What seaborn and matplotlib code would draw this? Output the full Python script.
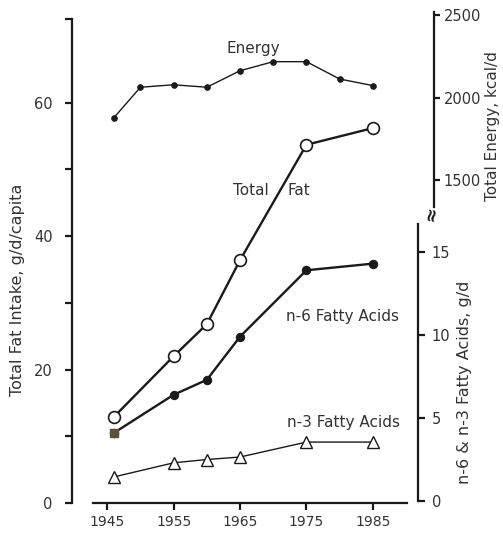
import numpy as np
import pandas as pd
from matplotlib import pyplot as plt
import seaborn as sns

# values
energy_years = [1946, 1950, 1955, 1960, 1965, 1970, 1975, 1980, 1985]
energy_kcal = [1880, 2065, 2080, 2065, 2165, 2220, 2220, 2115, 2075]

fat_years = [1946, 1955, 1960, 1965, 1975, 1985]
total_fat = [12.9, 22.0, 26.8, 36.4, 53.7, 56.2]      # g/d/capita (left axis)
n6_acids = [4.1, 6.4, 7.3, 9.9, 13.9, 14.3]           # g/d (lower right axis)
n3_acids = [1.45, 2.3, 2.5, 2.65, 3.55, 3.55]         # g/d (lower right axis)

year_ticks = [1945, 1955, 1965, 1975, 1985]


def plot(outf):
    sns.set_style("ticks")
    plt.rcParams['font.family'] = ['DejaVu Sans']
    ink = '#1a1a1a'
    txt = '#333333'

    W, H = 503, 534
    fig = plt.figure(figsize=(W / 100, H / 100), dpi=100)
    # main axes: left spine at x=72px, right spine at x=418px, 0 at y=503px
    ax = fig.add_axes([72 / W, (H - 503) / H, 346 / W, 491 / H])
    ax2 = ax.twinx()
    ax3 = ax.twinx()
    for a in (ax, ax2, ax3):
        a.set_facecolor('none')
        for s in a.spines.values():
            s.set_visible(False)
            s.set_linewidth(1.6)
            s.set_color(ink)

    ax.set_xlim(1939.7, 1991.8)
    ax.set_ylim(0, 73.6)
    ax2.set_ylim(-0.12, 29.46)
    ax3.set_ylim(-454.5, 2521)

    # Total fat - open circles, left axis
    sns.lineplot(x=fat_years, y=total_fat, ax=ax, color=ink, linewidth=1.7,
                 marker='o', markersize=8.5, markerfacecolor='white',
                 markeredgecolor=ink, markeredgewidth=1.2, clip_on=False)
    # n-6 fatty acids - filled circles
    sns.lineplot(x=fat_years, y=n6_acids, ax=ax2, color=ink, linewidth=1.7,
                 marker='o', markersize=6, markerfacecolor=ink,
                 markeredgecolor=ink, clip_on=False)
    ax2.plot(fat_years[0], n6_acids[0], 's', color='#5e5040', markersize=6,
             zorder=5)
    # n-3 fatty acids - open triangles
    sns.lineplot(x=fat_years, y=n3_acids, ax=ax2, color=ink, linewidth=1.0,
                 marker='^', markersize=8, markerfacecolor='white',
                 markeredgecolor=ink, markeredgewidth=1.0, clip_on=False)
    # Energy - small dots, upper right axis
    sns.lineplot(x=energy_years, y=energy_kcal, ax=ax3, color=ink,
                 linewidth=1.0, marker='o', markersize=4, markerfacecolor=ink,
                 markeredgecolor=ink, clip_on=False)

    # left axis
    ax.spines['left'].set_visible(True)
    ax.spines['left'].set_bounds(0, 72.5)
    ax.set_yticks([0, 20, 40, 60])
    ax.set_yticks([10, 30, 50, 72.5], minor=True)
    ax.tick_params(axis='y', which='both', direction='out', length=5,
                   width=1.6, color=ink, labelsize=10.5, labelcolor=txt, pad=9)
    ax.tick_params(axis='y', which='both', right=False)

    # x axis, detached from the left spine
    ax.spines['bottom'].set_visible(True)
    ax.spines['bottom'].set_bounds(1942.9, 1990.1)
    ax.set_xticks(year_ticks)
    ax.tick_params(axis='x', direction='out', length=5, width=1.6, color=ink,
                   labelsize=10, labelcolor=txt, pad=4)

    # lower right axis (fatty acids)
    ax2.spines['right'].set_visible(True)
    ax2.spines['right'].set_bounds(0, 16.7)
    ax2.set_yticks([0, 5, 10, 15])
    ax2.tick_params(axis='y', direction='out', length=5, width=1.6,
                    color=ink, labelsize=10.5, labelcolor=txt, pad=5)

    # upper right axis (energy), pushed outward
    ax3.spines['right'].set_visible(True)
    ax3.spines['right'].set_position(('outward', 11.5))
    ax3.spines['right'].set_bounds(1340, 2521)
    ax3.set_yticks([1500, 2000, 2500])
    ax3.tick_params(axis='y', direction='out', length=4, width=1.6,
                    color=ink, labelsize=10.5, labelcolor=txt, pad=3)

    for a in (ax, ax2, ax3):
        a.set_xlabel('')
        a.set_ylabel('')

    # break mark between the two right axes
    fig.text(431 / W, 1 - 214 / H, '\u2248', fontsize=13, color=ink,
             ha='center', va='center', rotation=80, fontweight='bold')

    # series labels
    kw = dict(fontsize=11, color=txt, ha='center', va='center')
    ax.text(1967.0, 68.2, 'Energy', **kw)
    ax.text(1966.7, 46.9, 'Total', **kw)
    ax.text(1973.9, 46.9, 'Fat', **kw)
    ax.text(1980.5, 28.0, 'n-6 Fatty Acids', **kw)
    ax.text(1980.6, 12.1, 'n-3 Fatty Acids', **kw)

    # axis titles
    lk = dict(fontsize=11.5, color=txt, ha='center', va='center', rotation=90)
    fig.text(18 / W, 1 - 290 / H, 'Total Fat Intake, g/d/capita', **lk)
    fig.text(465 / W, 1 - 382 / H, 'n-6 & n-3 Fatty Acids, g/d', **lk)
    fig.text(493 / W, 1 - 126 / H, 'Total Energy, kcal/d', fontsize=11,
             color=txt, ha='center', va='center', rotation=90)

    plt.savefig(outf, dpi=100)


if __name__ == "__main__":
    plot("out.png")
